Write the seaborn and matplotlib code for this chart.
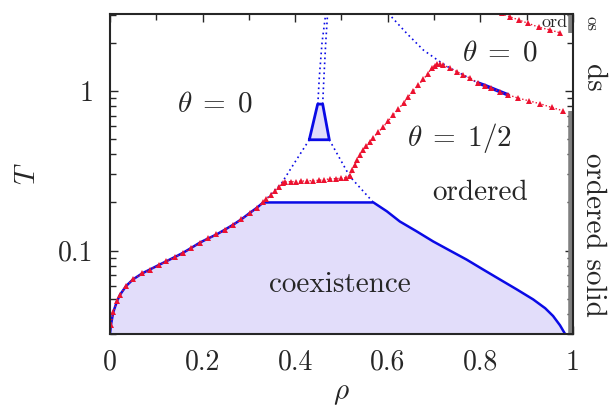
import matplotlib
matplotlib.use('Agg')
import matplotlib.pyplot as plt
import matplotlib.ticker as mticker
import numpy as np
import seaborn as sns

# coexistence boundary (blue, filled)
coex_rho = [0, 0.002, 0.007, 0.015, 0.022, 0.035, 0.05, 0.07, 0.086, 0.105, 0.122, 0.14,
            0.158, 0.176, 0.194, 0.212, 0.23, 0.248, 0.266, 0.284, 0.302, 0.317, 0.331,
            0.569, 0.598, 0.626, 0.662, 0.698, 0.734, 0.770, 0.806, 0.842, 0.878, 0.914,
            0.940, 0.957, 0.972, 0.983]
coex_T = [0.03, 0.034, 0.041, 0.048, 0.053, 0.060, 0.066, 0.072, 0.076, 0.081, 0.0857, 0.091,
          0.0968, 0.104, 0.112, 0.119, 0.126, 0.135, 0.145, 0.157, 0.172, 0.185, 0.2,
          0.2, 0.176, 0.152, 0.132, 0.114, 0.100, 0.0878, 0.0760, 0.0659, 0.0572, 0.0494,
          0.0435, 0.0389, 0.034, 0.03]

# small re-entrant coexistence pocket
pocket_rho = [0.4305, 0.4486, 0.4594, 0.4737, 0.4305]
pocket_T = [0.494, 0.826, 0.826, 0.494, 0.494]

# red triangles: simulation boundary
red_lo_rho = coex_rho[:23] + [0.338, 0.347, 0.356, 0.365, 0.373, 0.378, 0.390, 0.401, 0.413,
                              0.426, 0.438, 0.451, 0.463, 0.475, 0.488, 0.500, 0.510, 0.518]
red_lo_T = coex_T[:23] + [0.210, 0.222, 0.235, 0.250, 0.265, 0.269, 0.270, 0.270, 0.272,
                          0.273, 0.274, 0.275, 0.278, 0.281, 0.282, 0.283, 0.286, 0.291]
red_mid_rho = [0.518, 0.523, 0.529, 0.534, 0.540, 0.547, 0.554, 0.561, 0.569, 0.579, 0.590,
               0.601, 0.612, 0.623, 0.634, 0.644, 0.655, 0.666, 0.677, 0.686, 0.695, 0.701,
               0.706, 0.713, 0.720, 0.734, 0.749, 0.763, 0.778, 0.795, 0.810, 0.824, 0.842,
               0.860, 0.882, 0.905, 0.929, 0.954, 0.979]
red_mid_T = [0.291, 0.318, 0.345, 0.370, 0.398, 0.425, 0.452, 0.479, 0.510, 0.550, 0.593,
             0.648, 0.708, 0.770, 0.838, 0.915, 1.00, 1.09, 1.18, 1.28, 1.39, 1.44,
             1.48, 1.47, 1.45, 1.39, 1.32, 1.26, 1.20, 1.12, 1.08, 1.04, 0.99,
             0.944, 0.90, 0.866, 0.83, 0.787, 0.75]
red_hi_rho = [0.846, 0.864, 0.883, 0.903, 0.927, 0.950, 0.972]
red_hi_T = [3.06, 2.91, 2.78, 2.65, 2.50, 2.41, 2.31]

# blue dotted (mean-field) lines
dot_lines = [
    ([0.449, 0.452, 0.458, 0.466], [0.826, 1.2, 2.0, 3.05]),
    ([0.4594, 0.462, 0.466, 0.470], [0.826, 1.2, 2.0, 3.05]),
    ([0.4305, 0.403, 0.371, 0.331], [0.494, 0.371, 0.265, 0.2]),
    ([0.4737, 0.518, 0.569], [0.494, 0.291, 0.2]),
    ([0.601, 0.641, 0.677, 0.713, 0.734, 0.763, 0.795], [3.06, 2.29, 1.80, 1.52, 1.39, 1.26, 1.12]),
]
blue_seg_rho = [0.795, 0.810, 0.824, 0.842, 0.860]
blue_seg_T = [1.12, 1.08, 1.04, 0.99, 0.944]

blue = '#0a0ae6'
red = '#ec1230'
fill = '#e2ddfa'

sns.set_style('ticks')
plt.rcParams['font.family'] = 'serif'
plt.rcParams['font.serif'] = ['cmr10']
plt.rcParams['mathtext.fontset'] = 'cm'
plt.rcParams['axes.formatter.use_mathtext'] = True

fig = plt.figure(figsize=(6.13, 4.08), dpi=100)
ax = fig.add_axes([0.1794, 0.1814, 0.7553, 0.7843])

ax.fill_between(coex_rho, coex_T, 0.01, color=fill, lw=0)
ax.fill(pocket_rho, pocket_T, color=fill, lw=0)

for r, t in dot_lines:
    sns.lineplot(x=r, y=t, ax=ax, sort=False, estimator=None, color=blue,
                 lw=1.2, ls=(0, (1, 2)))

sns.lineplot(x=coex_rho, y=coex_T, ax=ax, sort=False, estimator=None, color=blue, lw=1.8)
sns.lineplot(x=pocket_rho, y=pocket_T, ax=ax, sort=False, estimator=None, color=blue, lw=2)
sns.lineplot(x=blue_seg_rho, y=blue_seg_T, ax=ax, sort=False, estimator=None, color=blue, lw=2.5)

for r, t in [(red_lo_rho, red_lo_T), (red_mid_rho, red_mid_T), (red_hi_rho, red_hi_T)]:
    sns.lineplot(x=r, y=t, ax=ax, sort=False, estimator=None, color=red, lw=1.0,
                 ls=(0, (1, 1.5)), marker='^', markersize=3.8, markeredgewidth=0)

# gray bars marking ordered solid phases at rho = 1
ax.plot([0.996, 0.996], [0.03, 0.75], color='#808080', lw=4, solid_capstyle='butt', zorder=5)
ax.plot([0.996, 0.996], [2.3, 3.03], color='#808080', lw=4, solid_capstyle='butt', zorder=5)

ax.set_yscale('log')
ax.set_xlim(0, 1)
ax.set_ylim(0.03, 3.03)
ax.xaxis.set_major_locator(mticker.MultipleLocator(0.2))
ax.xaxis.set_minor_locator(mticker.MultipleLocator(0.1))
ax.xaxis.set_major_formatter(mticker.FuncFormatter(lambda v, p: f'{v:g}'))
ax.yaxis.set_major_locator(mticker.FixedLocator([0.1, 1]))
ax.yaxis.set_major_formatter(mticker.FixedFormatter(['0.1', '1']))
ax.yaxis.set_minor_locator(mticker.LogLocator(subs=np.arange(2, 10)))
ax.yaxis.set_minor_formatter(mticker.NullFormatter())
ax.tick_params(which='both', direction='in', top=True, right=True, labelsize=20, width=1)
ax.tick_params(axis='x', pad=11)
ax.tick_params(axis='y', pad=12)
ax.tick_params(which='major', length=6)
ax.tick_params(which='minor', length=4)
for s in ax.spines.values():
    s.set_linewidth(1.5)
    s.set_zorder(6)

ax.set_xlabel(r'$\rho$', fontsize=21, labelpad=4)
ax.set_ylabel(r'$T$', fontsize=21, labelpad=12)

ax.text(0.227, 0.818, r'$\theta\;=\;0$', fontsize=21, ha='center', va='center')
ax.text(0.842, 1.73, r'$\theta\;=\;0$', fontsize=21, ha='center', va='center')
ax.text(0.754, 0.508, r'$\theta\;=\;1/2$', fontsize=21, ha='center', va='center')
ax.text(0.799, 0.23, 'ordered', fontsize=21, ha='center', va='center')
ax.text(0.497, 0.0613, 'coexistence', fontsize=21, ha='center', va='center')
ax.text(0.961, 2.7, 'ord', fontsize=13, ha='center', va='center')

fig.text(593 / 613, 1 - 235 / 408, 'ordered solid', fontsize=21, rotation=270,
         ha='center', va='center')
fig.text(593 / 613, 1 - 78 / 408, 'ds', fontsize=21, rotation=270, ha='center', va='center')
fig.text(591 / 613, 1 - 24 / 408, 'os', fontsize=12, rotation=270, ha='center', va='center')

fig.savefig('out.png', dpi=100)
